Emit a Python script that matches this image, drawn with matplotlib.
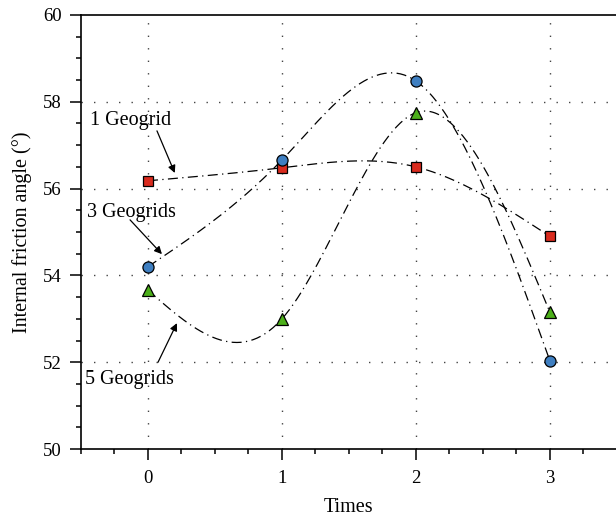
import numpy as np
import matplotlib
matplotlib.use("Agg")
import matplotlib.pyplot as plt

times = [0, 1, 2, 3]
one_geogrid = [56.18, 56.48, 56.5, 54.9]
three_geogrids = [54.2, 56.66, 58.48, 52.03]
five_geogrids = [53.66, 53.0, 57.75, 53.15]


def natural_spline(x, y, n=200):
    # natural cubic spline through the points, like Origin's spline connector
    x = np.asarray(x, float)
    y = np.asarray(y, float)
    k = len(x)
    h = np.diff(x)
    A = np.zeros((k, k))
    b = np.zeros(k)
    A[0, 0] = A[-1, -1] = 1
    for i in range(1, k - 1):
        A[i, i - 1] = h[i - 1]
        A[i, i] = 2 * (h[i - 1] + h[i])
        A[i, i + 1] = h[i]
        b[i] = 6 * ((y[i + 1] - y[i]) / h[i] - (y[i] - y[i - 1]) / h[i - 1])
    M = np.linalg.solve(A, b)
    xs = np.linspace(x[0], x[-1], n)
    ys = np.empty_like(xs)
    for j, t in enumerate(xs):
        i = min(np.searchsorted(x, t, side="right") - 1, k - 2)
        a = x[i + 1] - t
        c = t - x[i]
        ys[j] = (M[i] * a**3 + M[i + 1] * c**3) / (6 * h[i]) \
            + (y[i] / h[i] - M[i] * h[i] / 6) * a \
            + (y[i + 1] / h[i] - M[i + 1] * h[i] / 6) * c
    return xs, ys


plt.rcParams["font.family"] = ["Liberation Serif", "DejaVu Serif"]
plt.rcParams["font.size"] = 13.5

fig = plt.figure(figsize=(6.16, 5.17), dpi=100)
ax = fig.add_axes([0.1315, 0.1315, 0.87, 0.8395])

series = [
    (one_geogrid, "s", "#d92b1e", 7),
    (three_geogrids, "o", "#3f7fc1", 8),
    (five_geogrids, "^", "#4caf1a", 9),
]
for vals, mk, col, ms in series:
    xs, ys = natural_spline(times, vals)
    ax.plot(xs, ys, color="black", lw=0.9, ls=(0, (8, 3.5, 1, 3.5)), zorder=2)
    ax.plot(times, vals, ls="none", marker=mk, ms=ms, mfc=col, mec="black",
            mew=0.9, zorder=3)

ax.set_xlim(-0.5, 3.5)
ax.set_ylim(50, 60)
ax.set_xticks([0, 1, 2, 3])
ax.set_xticks(np.arange(-0.5, 3.51, 0.25), minor=True)
ax.set_yticks([50, 52, 54, 56, 58, 60])
ax.set_yticks(np.arange(50, 60.01, 0.5), minor=True)
ax.tick_params(which="major", direction="out", length=8, width=1.1)
ax.tick_params(which="minor", direction="out", length=3.6, width=1.1)
ax.tick_params(axis="x", which="major", pad=7)
ax.tick_params(axis="y", which="major", pad=6)

for g in [0, 1, 2, 3]:
    ax.axvline(g, color="#444444", lw=1.0, ls=(0, (1, 8)), zorder=1)
for g in [52, 54, 56, 58]:
    ax.axhline(g, color="#444444", lw=1.0, ls=(0, (1, 8)), zorder=1)

for s in ["left", "bottom", "top"]:
    ax.spines[s].set_linewidth(1.2)
ax.spines["right"].set_visible(False)

ax.set_xlabel("Times", fontsize=14.5, labelpad=8)
ax.set_ylabel("Internal friction angle (°)", fontsize=14.5, labelpad=8)

arrow = dict(arrowstyle="-|>", color="black", lw=0.9, mutation_scale=11,
             shrinkA=0, shrinkB=0)
ax.text(-0.13, 57.58, "1 Geogrid", ha="center", va="center", fontsize=14.5)
ax.annotate("", xy=(0.20, 56.36), xytext=(0.067, 57.33), arrowprops=arrow)
ax.text(-0.12, 55.46, "3 Geogrids", ha="center", va="center", fontsize=14.5)
ax.annotate("", xy=(0.104, 54.49), xytext=(-0.134, 55.28), arrowprops=arrow)
ax.text(-0.14, 51.61, "5 Geogrids", ha="center", va="center", fontsize=14.5)
ax.annotate("", xy=(0.216, 52.9), xytext=(0.075, 52.0), arrowprops=arrow)

fig.savefig("out.png", dpi=100)
